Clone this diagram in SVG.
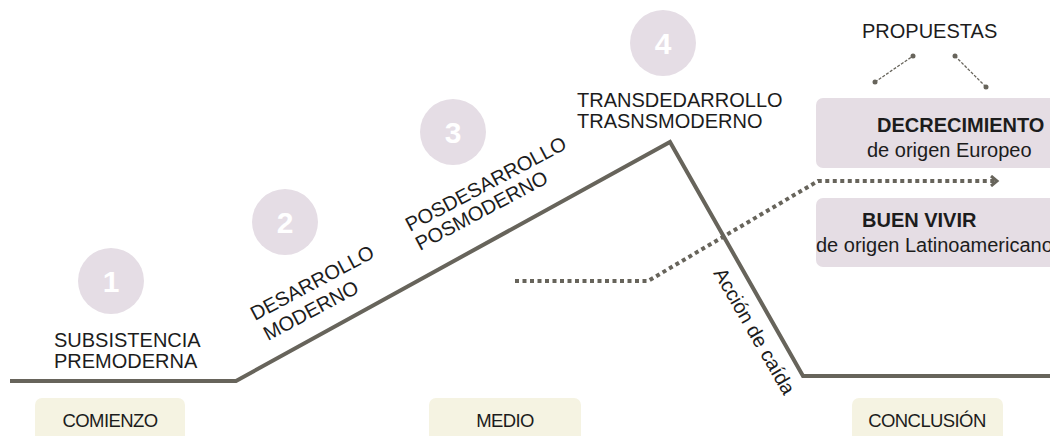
<svg xmlns="http://www.w3.org/2000/svg" width="1050" height="436" viewBox="0 0 1050 436">
  <style>
    .lbl { font-family: "Liberation Sans", Arial, sans-serif; font-size: 20px; fill: #1c1c1c; }
    .num { font-family: "Liberation Sans", Arial, sans-serif; font-size: 30px; font-weight: bold; fill: #ffffff; text-anchor: middle; }
    .circ { fill: #e5dde5; }
    .prop { fill: #e5dde4; }
    .phase { fill: #f5f3e2; }
    .phaseTxt { font-family: "Liberation Sans", Arial, sans-serif; font-size: 18.5px; fill: #1c1c1c; text-anchor: middle; letter-spacing: -0.6px; }
    .bold { font-weight: bold; }
    .main { fill: none; stroke: #67645b; stroke-width: 4; stroke-linejoin: miter; }
    .dots { fill: none; stroke: #67645b; stroke-width: 4; stroke-dasharray: 4 3.5; }
    .thin { fill: none; stroke: #67645b; stroke-width: 1.3; stroke-dasharray: 3 1.5; }
    .end { fill: #67645b; }
  </style>
  <defs>
    <marker id="chev" markerWidth="10" markerHeight="12" refX="6" refY="6" orient="auto" markerUnits="userSpaceOnUse">
      <path d="M1,1 L7,6 L1,11" fill="none" stroke="#67645b" stroke-width="3"/>
    </marker>
  </defs>

  <g id="connectors">
    <polyline class="main" points="10,381 236,381 670,142 803,376 1050,376"/>
    <polyline class="dots" points="515,281 648,281 818,181 996,181" marker-end="url(#chev)"/>
    <line class="thin" x1="875" y1="82" x2="913" y2="56"/>
    <circle class="end" cx="875" cy="82" r="2.5"/>
    <circle class="end" cx="913" cy="56" r="2.5"/>
    <line class="thin" x1="955" y1="56" x2="986" y2="87"/>
    <circle class="end" cx="955" cy="56" r="2.5"/>
    <circle class="end" cx="986" cy="87" r="2.5"/>
  </g>

  <g id="stage1">
    <circle class="circ" cx="111" cy="281" r="33"/>
    <text class="num" x="111" y="292">1</text>
    <text class="lbl" x="54" y="347">SUBSISTENCIA</text>
    <text class="lbl" x="54" y="368">PREMODERNA</text>
  </g>

  <g id="stage2">
    <circle class="circ" cx="285" cy="222" r="33"/>
    <text class="num" x="285" y="233">2</text>
    <text class="lbl" transform="translate(255,321) rotate(-28)">DESARROLLO</text>
    <text class="lbl" transform="translate(268,341) rotate(-28)">MODERNO</text>
  </g>

  <g id="stage3">
    <circle class="circ" cx="453" cy="132" r="33"/>
    <text class="num" x="453" y="143">3</text>
    <text class="lbl" transform="translate(410,232) rotate(-28)">POSDESARROLLO</text>
    <text class="lbl" transform="translate(420,251) rotate(-28)">POSMODERNO</text>
  </g>

  <g id="stage4">
    <circle class="circ" cx="663" cy="43" r="33"/>
    <text class="num" x="663" y="54">4</text>
    <text class="lbl" x="577" y="107">TRANSDEDARROLLO</text>
    <text class="lbl" x="577" y="128">TRASNSMODERNO</text>
  </g>

  <g id="fall-label">
    <text class="lbl" transform="translate(713,273) rotate(60)">Acción de caída</text>
  </g>

  <g id="propuestas">
    <text class="lbl" x="862" y="38">PROPUESTAS</text>
  </g>

  <g id="decrecimiento">
    <rect class="prop" x="816" y="98" width="250" height="70" rx="7"/>
    <text class="lbl bold" x="877" y="132">DECRECIMIENTO</text>
    <text class="lbl" x="867" y="157">de origen Europeo</text>
  </g>

  <g id="buen-vivir">
    <rect class="prop" x="816" y="198" width="250" height="69" rx="7"/>
    <text class="lbl bold" x="862" y="227">BUEN VIVIR</text>
    <text class="lbl" x="816" y="252">de origen Latinoamericano</text>
  </g>

  <g id="comienzo">
    <rect class="phase" x="35" y="398" width="150" height="50" rx="7"/>
    <text class="phaseTxt" x="110" y="427">COMIENZO</text>
  </g>

  <g id="medio">
    <rect class="phase" x="429" y="398" width="152" height="50" rx="7"/>
    <text class="phaseTxt" x="505" y="427">MEDIO</text>
  </g>

  <g id="conclusion">
    <rect class="phase" x="852" y="398" width="151" height="50" rx="7"/>
    <text class="phaseTxt" x="927" y="427">CONCLUSIÓN</text>
  </g>
</svg>
